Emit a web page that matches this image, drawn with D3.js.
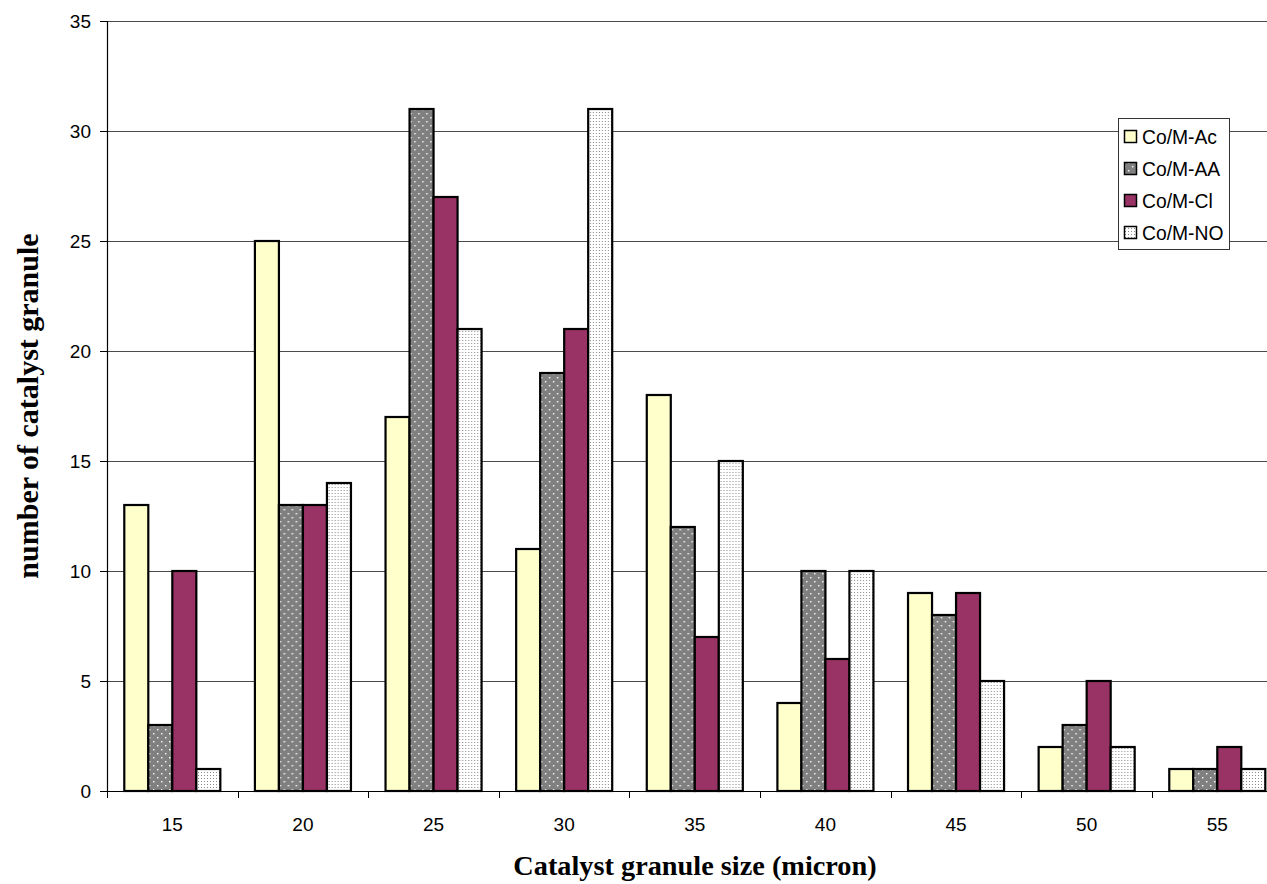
<!DOCTYPE html>
<html>
<head>
<meta charset="utf-8">
<script src="https://cdn.jsdelivr.net/npm/d3@7"></script>
<style>
  html, body { margin: 0; padding: 0; background: #fff; }
  svg { display: block; overflow: hidden; }
</style>
</head>
<body>
<svg id="chart" width="1267" height="884"></svg>
<script>
// Granule size classes (micron)
const sizes = ["15", "20", "25", "30", "35", "40", "45", "50", "55"];
// Catalyst series
const seriesNames = ["Co/M-Ac", "Co/M-AA", "Co/M-Cl", "Co/M-NO"];
// Counts per size class for each catalyst
const coMAc = [13, 25, 17, 11, 18, 4, 9, 2, 1];
const coMAA = [3, 13, 31, 19, 12, 10, 8, 3, 1];
const coMCl = [10, 13, 27, 21, 7, 6, 9, 5, 2];
const coMNO = [1, 14, 21, 31, 15, 10, 5, 2, 1];
const yTicks = [0, 5, 10, 15, 20, 25, 30, 35];

const seriesValues = [coMAc, coMAA, coMCl, coMNO];
const fills = ["#FFFFCC", "url(#dotsAA)", "#993366", "url(#dotsNO)"];

const svg = d3.select("#chart");
const plotLeft = 107, plotTop = 21, plotBottom = 791;
const plotRight = 1282.6; // the plot runs past the right edge of the canvas

const x = d3.scaleBand().domain(sizes).range([plotLeft, plotRight]).padding(0);
const xs = d3.scaleBand().domain(seriesNames).range([0, x.bandwidth()])
  .paddingInner(0).paddingOuter(0.72);
const y = d3.scaleLinear().domain([0, 35]).range([plotBottom, plotTop]);

// Fill patterns
const defs = svg.append("defs");
const pAA = defs.append("pattern").attr("id", "dotsAA")
  .attr("patternUnits", "userSpaceOnUse").attr("width", 8).attr("height", 8);
pAA.append("rect").attr("width", 8).attr("height", 8).attr("fill", "#808080");
pAA.append("rect").attr("x", 2).attr("y", 1).attr("width", 1.4).attr("height", 1.4).attr("fill", "#fff");
pAA.append("rect").attr("x", 6).attr("y", 5).attr("width", 1.4).attr("height", 1.4).attr("fill", "#fff");

const pNO = defs.append("pattern").attr("id", "dotsNO")
  .attr("patternUnits", "userSpaceOnUse").attr("width", 3).attr("height", 3);
pNO.append("rect").attr("width", 3).attr("height", 3).attr("fill", "#fff");
pNO.append("rect").attr("x", 1).attr("y", 1).attr("width", 1).attr("height", 1).attr("fill", "#8a8a8a");

// Horizontal gridlines
svg.append("g")
  .selectAll("line")
  .data(yTicks.filter(d => d > 0))
  .join("line")
  .attr("x1", plotLeft).attr("x2", plotRight)
  .attr("y1", d => y(d) + 0.5).attr("y2", d => y(d) + 0.5)
  .attr("stroke", "#4a4a4a").attr("stroke-width", 1);

// Bars
const groups = svg.append("g")
  .selectAll("g")
  .data(sizes)
  .join("g")
  .attr("transform", d => `translate(${x(d)},0)`);

groups.selectAll("rect")
  .data((d, i) => seriesNames.map((s, k) => ({ s, k, v: seriesValues[k][i] })))
  .join("rect")
  .attr("x", d => xs(d.s))
  .attr("y", d => y(d.v))
  .attr("width", xs.bandwidth())
  .attr("height", d => y(0) - y(d.v))
  .attr("fill", d => fills[d.k])
  .attr("stroke", "#000")
  .attr("stroke-width", 2.2);

// Y axis
const yAxis = svg.append("g")
  .attr("transform", `translate(${plotLeft},0)`)
  .call(d3.axisLeft(y).tickValues(yTicks).tickSize(7).tickPadding(9).tickFormat(d3.format("d")));
yAxis.select(".domain").attr("stroke", "#000").attr("stroke-width", 1.2);
yAxis.selectAll(".tick line").attr("stroke", "#000");
yAxis.selectAll("text")
  .attr("font-family", "Liberation Sans, Arial, sans-serif")
  .attr("font-size", 19).attr("fill", "#000");

// X axis: labels centred in each class, ticks on the class boundaries
const xAxis = svg.append("g")
  .attr("transform", `translate(0,${plotBottom})`)
  .call(d3.axisBottom(x).tickSize(0).tickPadding(27));
xAxis.select(".domain").remove();
xAxis.selectAll("text")
  .attr("font-family", "Liberation Sans, Arial, sans-serif")
  .attr("font-size", 19).attr("fill", "#000");

svg.append("line")
  .attr("x1", plotLeft).attr("x2", plotRight)
  .attr("y1", plotBottom + 0.5).attr("y2", plotBottom + 0.5)
  .attr("stroke", "#000").attr("stroke-width", 1.2);

svg.append("g")
  .selectAll("line")
  .data(sizes)
  .join("line")
  .attr("x1", d => Math.round(x(d)) + 0.5).attr("x2", d => Math.round(x(d)) + 0.5)
  .attr("y1", plotBottom).attr("y2", plotBottom + 7)
  .attr("stroke", "#000").attr("stroke-width", 1);

// Axis titles
svg.append("text")
  .attr("x", 695).attr("y", 875)
  .attr("text-anchor", "middle")
  .attr("font-family", "Liberation Serif, Times New Roman, serif")
  .attr("font-weight", "bold").attr("font-size", 28.3)
  .text("Catalyst granule size (micron)");

svg.append("text")
  .attr("transform", "translate(38,406) rotate(-90)")
  .attr("text-anchor", "middle")
  .attr("font-family", "Liberation Serif, Times New Roman, serif")
  .attr("font-weight", "bold").attr("font-size", 30)
  .text("number of catalyst granule");

// Legend
const lg = svg.append("g").attr("transform", "translate(1118,118)");
lg.append("rect")
  .attr("x", 0.5).attr("y", 0.5).attr("width", 111).attr("height", 131)
  .attr("fill", "#fff").attr("stroke", "#333").attr("stroke-width", 1);
const items = lg.selectAll("g.item")
  .data(seriesNames)
  .join("g")
  .attr("class", "item")
  .attr("transform", (d, i) => `translate(0,${19 + i * 32})`);
items.append("rect")
  .attr("x", 6.5).attr("y", -6.5).attr("width", 12).attr("height", 12)
  .attr("fill", (d, i) => fills[i])
  .attr("stroke", "#000").attr("stroke-width", 1.5);
items.append("text")
  .attr("x", 24).attr("y", 0)
  .attr("dy", "0.36em")
  .attr("font-family", "Liberation Sans, Arial, sans-serif")
  .attr("font-size", 19.3).attr("fill", "#000")
  .text(d => d);
</script>
</body>
</html>
